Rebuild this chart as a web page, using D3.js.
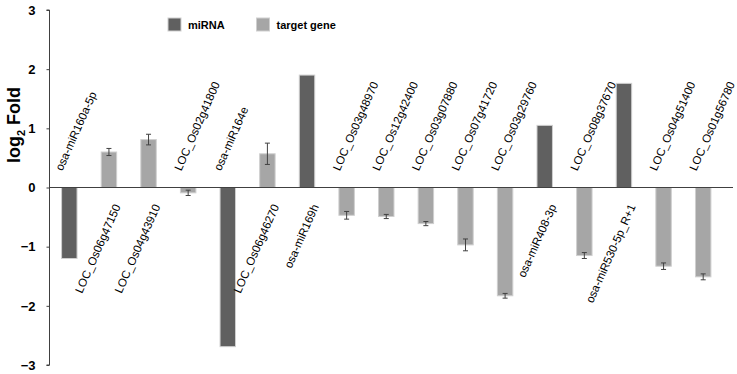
<!DOCTYPE html>
<html>
<head>
<meta charset="utf-8">
<script src="https://cdn.jsdelivr.net/npm/d3@7"></script>
<style>
  body { margin: 0; background: #fff; }
  svg { font-family: "Liberation Sans", Arial, sans-serif; }
  .axis path, .axis line { stroke: #404040; }
  .axis text { font-weight: bold; font-size: 13px; fill: #000; }
</style>
</head>
<body>
<div id="chart"></div>
<script>
// categories, type (m = miRNA, t = target gene), log2 fold and error
const labels = ['osa-miR160a-5p', 'LOC_Os06g47150', 'LOC_Os04g43910', 'LOC_Os02g41800',
  'osa-miR164e', 'LOC_Os06g46270', 'osa-miR169h', 'LOC_Os03g48970', 'LOC_Os12g42400',
  'LOC_Os03g07880', 'LOC_Os07g41720', 'LOC_Os03g29760', 'osa-miR408-3p', 'LOC_Os08g37670',
  'osa-miR530-5p_R+1', 'LOC_Os04g51400', 'LOC_Os01g56780'];
const types = ['m', 't', 't', 't', 'm', 't', 'm', 't', 't', 't', 't', 't', 'm', 't', 'm', 't', 't'];
const values = [-1.2, 0.6, 0.81, -0.09, -2.69, 0.57, 1.9, -0.47, -0.49, -0.61, -0.97, -1.83,
  1.05, -1.15, 1.76, -1.33, -1.51];
const errors = [null, 0.06, 0.09, 0.045, null, 0.18, null, 0.065, 0.035, 0.035, 0.1, 0.04,
  null, 0.05, null, 0.055, 0.05];
const yTicks = [-3, -2, -1, 0, 1, 2, 3];
const legendItems = [{ key: 'm', name: 'miRNA' }, { key: 't', name: 'target gene' }];

const width = 737, height = 374;
const color = { m: '#606060', t: '#a6a6a6' };

const svg = d3.select('#chart').append('svg')
  .attr('width', width)
  .attr('height', height);

const x = d3.scaleBand()
  .domain(labels)
  .range([49.5, 723])
  .paddingInner(0.61)
  .paddingOuter(0.305);

const y = d3.scaleLinear().domain([-3, 3]).range([365, 10]);

const data = labels.map((d, i) => ({ label: d, type: types[i], value: values[i], err: errors[i] }));

// y axis
svg.append('g')
  .attr('class', 'axis y-axis')
  .attr('transform', 'translate(49.5,0)')
  .call(d3.axisLeft(y).tickValues(yTicks).tickSize(3).tickPadding(11).tickFormat(d3.format('d')))
  .call(g => g.select('.domain').attr('d', `M-3,${y(3)}H0V${y(-3)}H-3`));

// bars
svg.selectAll('.bar')
  .data(data)
  .join('rect')
  .attr('class', 'bar')
  .attr('x', d => x(d.label))
  .attr('width', x.bandwidth())
  .attr('y', d => y(Math.max(0, d.value)))
  .attr('height', d => Math.abs(y(d.value) - y(0)))
  .attr('fill', d => color[d.type])
  .attr('stroke', '#cfcfcf')
  .attr('stroke-width', 1);

// error bars
const eb = svg.selectAll('.err')
  .data(data.filter(d => d.err !== null))
  .join('g')
  .attr('class', 'err')
  .attr('stroke', '#404040')
  .attr('stroke-width', 1);

eb.append('line')
  .attr('x1', d => x(d.label) + x.bandwidth() / 2)
  .attr('x2', d => x(d.label) + x.bandwidth() / 2)
  .attr('y1', d => y(d.value - d.err))
  .attr('y2', d => y(d.value + d.err));
[-1, 1].forEach(s => {
  eb.append('line')
    .attr('x1', d => x(d.label) + x.bandwidth() / 2 - 2.5)
    .attr('x2', d => x(d.label) + x.bandwidth() / 2 + 2.5)
    .attr('y1', d => y(d.value + s * d.err))
    .attr('y2', d => y(d.value + s * d.err));
});

// zero line
svg.append('line')
  .attr('x1', 49.5)
  .attr('x2', 733)
  .attr('y1', y(0))
  .attr('y2', y(0))
  .attr('stroke', '#404040')
  .attr('stroke-width', 1);

// category labels on the opposite side of each bar
svg.selectAll('.cat')
  .data(data)
  .join('text')
  .attr('class', 'cat')
  .attr('transform', d => {
    const cx = x(d.label) + x.bandwidth() / 2;
    return d.value < 0
      ? `translate(${cx - 7},${y(0) - 16}) rotate(-66)`
      : `translate(${cx + 12},${y(0) + 19}) rotate(-66)`;
  })
  .attr('text-anchor', d => d.value < 0 ? 'start' : 'end')
  .style('font-size', '11.5px')
  .text(d => d.label);

// y label
const yl = svg.append('text')
  .attr('transform', 'translate(20,125) rotate(-90)')
  .attr('text-anchor', 'middle')
  .style('font-size', '18px')
  .style('font-weight', 'bold');
yl.append('tspan').text('log');
yl.append('tspan').attr('dy', 5).style('font-size', '11px').text('2');
yl.append('tspan').attr('dy', -5).text(' Fold');

// legend
const lg = svg.selectAll('.legend')
  .data(legendItems)
  .join('g')
  .attr('class', 'legend')
  .attr('transform', (d, i) => `translate(${168 + i * 88.5},18)`);
lg.append('rect')
  .attr('width', 13)
  .attr('height', 13)
  .attr('fill', d => color[d.key])
  .attr('stroke', '#cfcfcf');
lg.append('text')
  .attr('x', 20)
  .attr('y', 10.5)
  .style('font-size', '11px')
  .style('font-weight', 'bold')
  .text(d => d.name);
</script>
</body>
</html>
